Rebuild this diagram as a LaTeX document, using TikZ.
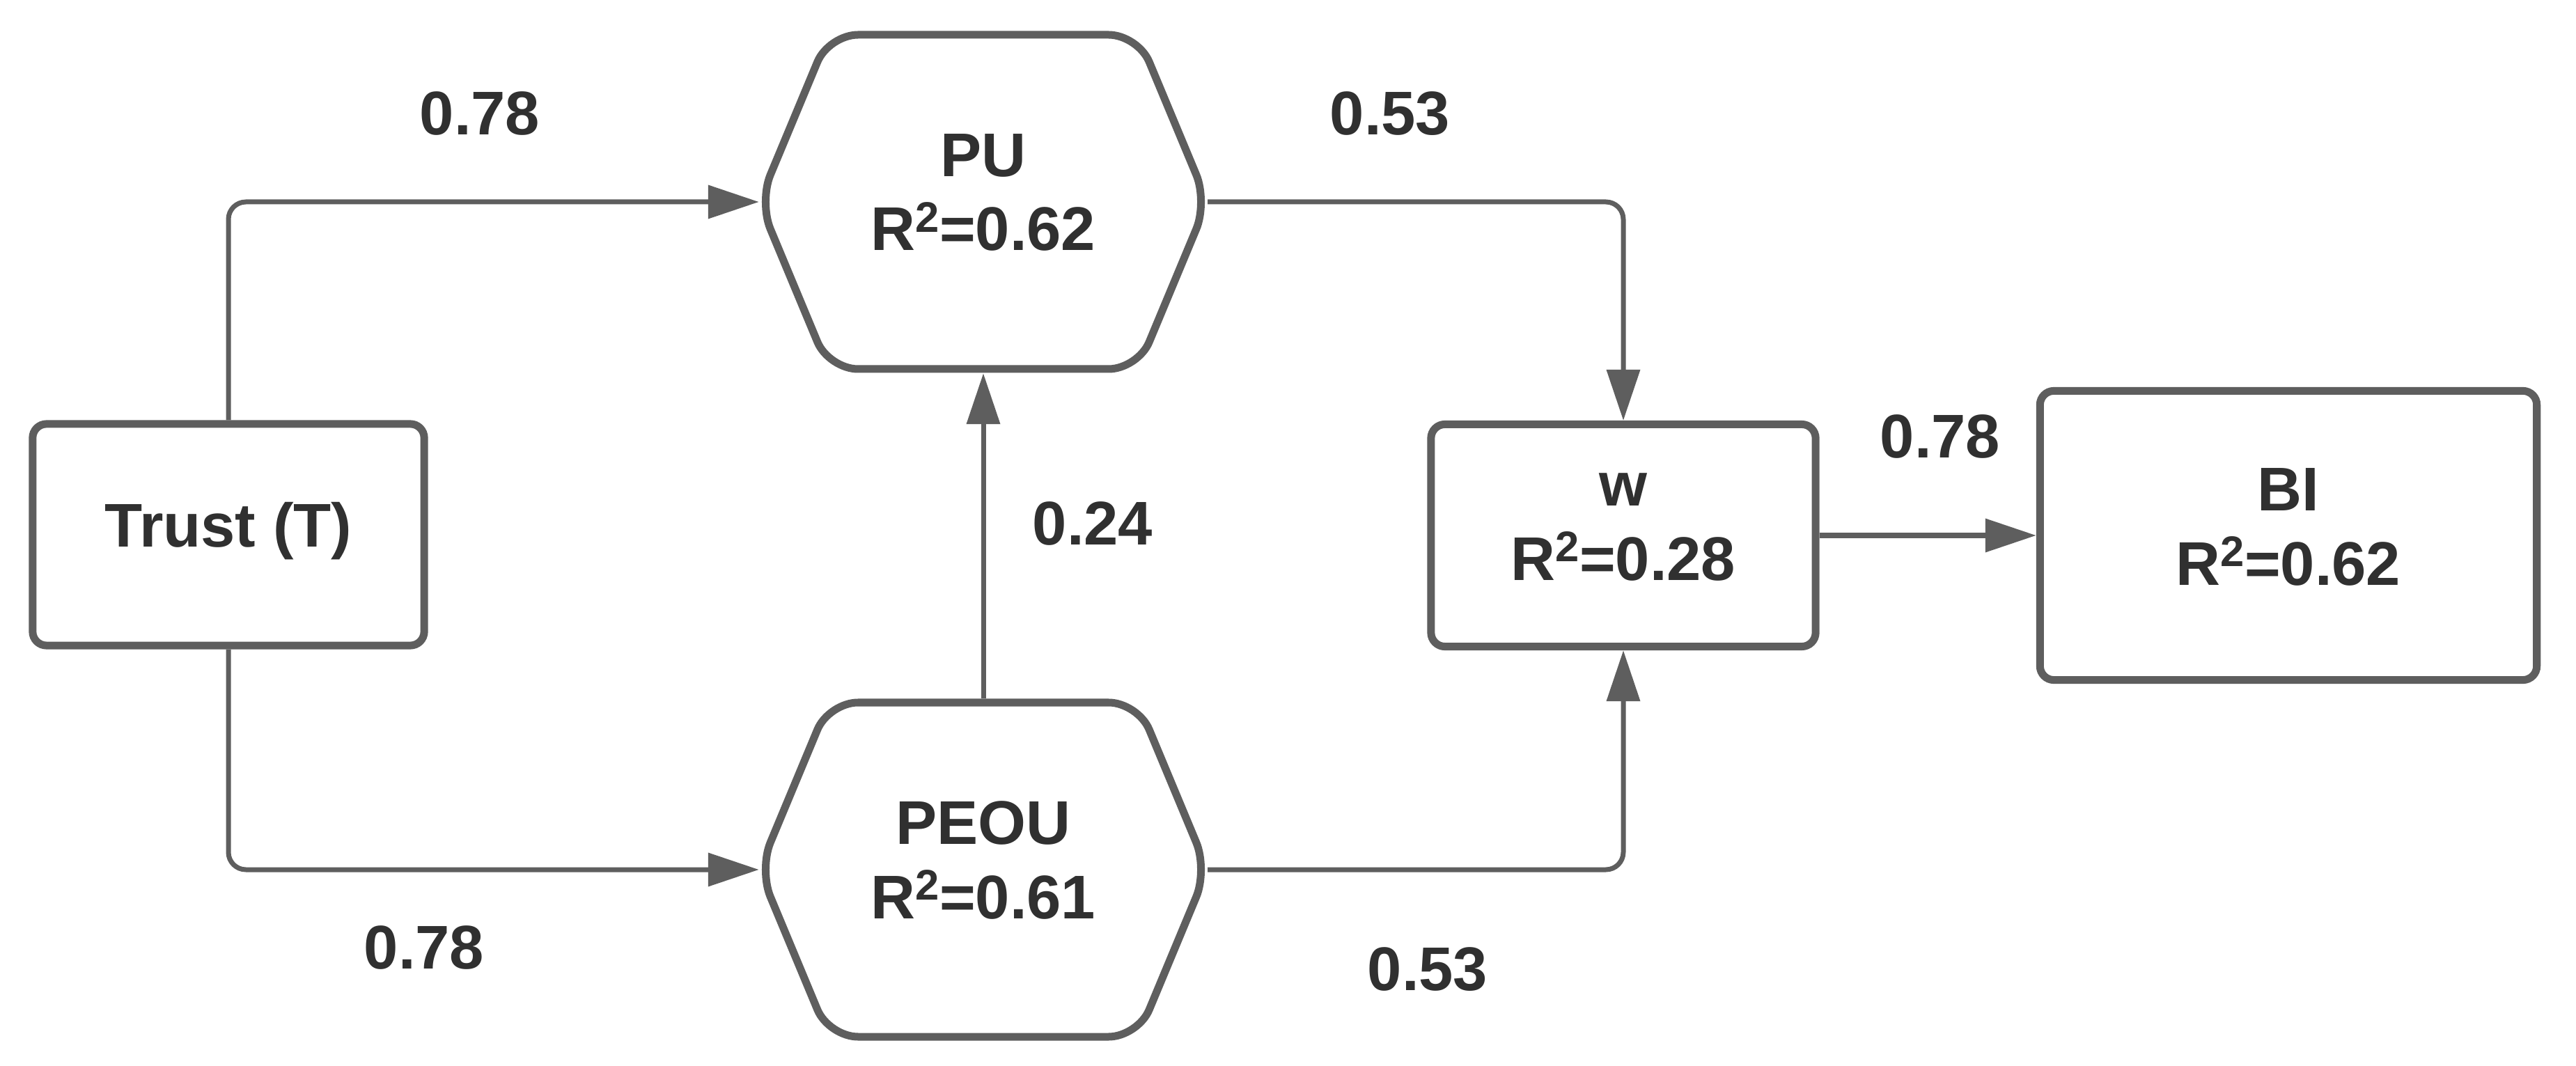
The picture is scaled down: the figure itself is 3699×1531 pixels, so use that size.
\documentclass[tikz,border=0pt]{standalone}
\usepackage{fontspec}
\setmainfont{Liberation Sans}
\usetikzlibrary{arrows.meta,calc}
\definecolor{linegray}{HTML}{5E5E5E}
\definecolor{txtgray}{HTML}{303030}
\newcommand\rsq{\raisebox{0.3em}{\fontsize{17.5}{17.5}\selectfont 2}}
\begin{document}
\begin{tikzpicture}[x=0.01cm,y=-0.01cm,
  every node/.style={font=\fontsize{25.2}{30.4}\selectfont\bfseries, text=txtgray},
  box/.style={draw=linegray, line width=0.11cm, rounded corners=0.2cm, fill=white, align=center, text depth=0.25cm},
  hexnode/.style={rectangle, minimum width=6.44cm, minimum height=4.92cm, outer sep=0pt, inner sep=0pt, align=center, text depth=0.28cm},
  hexline/.style={draw=linegray, line width=0.11cm, rounded corners=0.42cm},
  conn/.style={draw=linegray, line width=0.07cm, rounded corners=0.25cm, -{Triangle[length=0.73cm,width=0.47cm]}},
  lab/.style={inner sep=0pt}]
\fill[white] (0,0) rectangle (3699,1531);
\useasboundingbox (0,0) rectangle (3699,1531);

% nodes
\node[box, minimum width=5.62cm, minimum height=3.18cm, text depth=0.29cm] (T) at (328,768) {Trust (T)};
\node[hexnode] (PU) at (1412,290) {PU\\R\rsq=0.62};
\node[hexnode] (PEOU) at (1412,1249) {PEOU\\R\rsq=0.61};
\node[box, minimum width=5.52cm, minimum height=3.19cm] (W) at (2331,769) {w\\R\rsq=0.28};
\node[box, minimum width=7.13cm, minimum height=4.15cm] (BI) at (3286,769) {BI\\R\rsq=0.62};

% hexagon outlines
\foreach \h in {PU,PEOU}
  \draw[hexline] ($(\h.center)+(0,-240)$) -- ($(\h.center)+(222,-240)$) -- ($(\h.center)+(322,0)$)
    -- ($(\h.center)+(222,240)$) -- ($(\h.center)+(-222,240)$) -- ($(\h.center)+(-322,0)$)
    -- ($(\h.center)+(-222,-240)$) -- cycle;

% path labels
\node[lab] (l1) at (689,163) {0.78};
\node[lab] (l2) at (1996,163) {0.53};
\node[lab] (l3) at (1569,752) {0.24};
\node[lab] (l4) at (2786,627) {0.78};
\node[lab] (l5) at (609,1361) {0.78};
\node[lab] (l6) at (2050,1392) {0.53};

% connectors
\draw[conn] (T.north) |- (PU.west);
\draw[conn] (T.south) |- (PEOU.west);
\draw[conn] (PU.east) -| (W.north);
\draw[conn] (PEOU.east) -| (W.south);
\draw[conn] (PEOU.north) -- (PU.south);
\draw[conn] (W.east) -- (BI.west);
\end{tikzpicture}
\end{document}
